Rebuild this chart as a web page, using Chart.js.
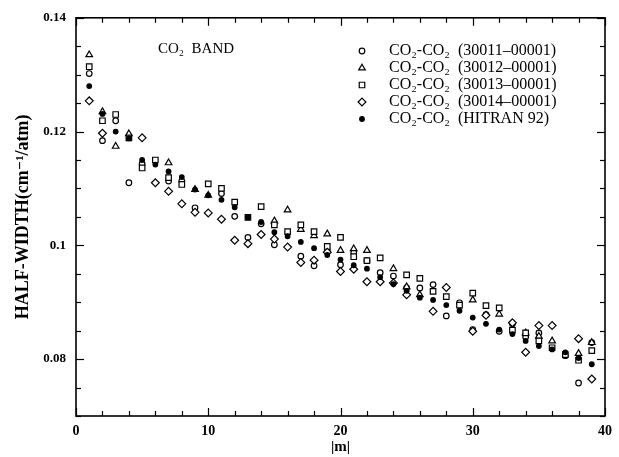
<!DOCTYPE html>
<html><head><meta charset="utf-8">
<script src="https://cdn.jsdelivr.net/npm/chart.js@4/dist/chart.umd.min.js"></script>
<style>html,body{margin:0;padding:0;background:#fff;}#wrap{width:619px;height:457px;position:relative;background:#fff;}</style>
</head><body><div id="wrap"><canvas id="c" width="619" height="457"></canvas></div>
<script>
// |m| values
const mValues = [1,2,3,4,5,6,7,8,9,10,11,12,13,14,15,16,17,18,19,20,21,22,23,24,25,26,27,28,29,30,31,32,33,34,35,36,37,38,39];
// CO2-CO2 (30011-00001)  open circles
const band30011 = [0.1302,0.1184,0.1219,0.1110,0.1143,null,0.1113,0.1113,0.1066,null,0.1091,0.1051,0.1014,0.1038,0.1001,null,0.0981,0.0964,0.0991,0.0966,0.0987,0.0973,0.0952,0.0946,0.0925,0.0925,0.0931,0.0876,0.0899,0.0852,0.0878,0.0849,0.0862,0.0839,0.0846,null,0.0806,0.0758,0.0829];
// CO2-CO2 (30012-00001)  open triangles
const band30012 = [0.1335,0.1235,0.1174,0.1196,null,null,0.1145,null,0.1098,0.1088,null,null,null,null,0.1043,0.1062,0.1028,0.1017,0.1020,0.0991,0.0994,0.0991,null,0.0959,0.0927,0.0913,null,null,null,0.0904,null,0.0879,null,0.0846,0.0840,0.0832,null,0.0810,0.0829];
// CO2-CO2 (30013-00001)  open squares
const band30013 = [0.1314,0.1219,0.1230,0.1189,0.1136,0.1150,0.1119,0.1107,null,0.1108,0.1100,0.1076,0.1049,0.1068,0.1036,0.1024,0.1036,0.1024,0.0998,0.1014,0.0980,0.0973,0.0978,null,0.0948,0.0942,0.0919,0.0910,0.0895,0.0916,0.0894,0.0890,0.0851,0.0846,0.0832,0.0820,0.0808,0.0798,0.0815];
// CO2-CO2 (30014-00001)  open diamonds
const band30014 = [0.1254,0.1197,null,null,0.1189,0.1110,0.1095,0.1073,0.1058,0.1057,0.1046,0.1009,0.1003,0.1019,0.1011,0.0997,0.0970,0.0974,0.0988,0.0954,0.0958,0.0936,0.0936,0.0934,0.0913,null,0.0884,0.0926,null,0.0849,0.0877,null,0.0864,0.0812,0.0859,0.0859,null,0.0836,0.0765];
// CO2-CO2 (HITRAN 92)  filled dots
const hitran92 = [0.1280,0.1231,0.1200,0.1188,0.1150,0.1142,0.1130,0.1120,0.1098,0.1088,0.1080,0.1067,0.1049,0.1041,0.1023,0.1016,0.1006,0.0995,0.0983,0.0975,0.0965,0.0959,0.0944,0.0932,0.0920,0.0908,0.0904,0.0895,0.0885,0.0873,0.0862,0.0852,0.0844,0.0832,0.0823,0.0817,0.0812,0.0802,0.0791];

const seriesLabels = ['CO\u2082-CO\u2082  (30011\u201300001)','CO\u2082-CO\u2082  (30012\u201300001)','CO\u2082-CO\u2082  (30013\u201300001)','CO\u2082-CO\u2082  (30014\u201300001)','CO\u2082-CO\u2082  (HITRAN 92)'];
const xTickValues = [0,10,20,30,40];
const yTickValues = [0.08,0.10,0.12,0.14];
const yTickLabels = ['0.08','0.1','0.12','0.14'];
const annotationText = 'CO\u2082  BAND';
const xTitle = '|m|';
const yTitle = 'HALF-WIDTH(cm\u207B\u00B9/atm)';

const serif = "'Liberation Serif','DejaVu Serif',serif";
function pts(arr){ const out=[]; arr.forEach((v,i)=>{ if(v!==null) out.push({x:mValues[i],y:v}); }); return out; }
const styles = [
  {pointStyle:'circle', r:2.8, fill:'#fff'},
  {pointStyle:'triangle', r:3.8, fill:'#fff'},
  {pointStyle:'rect', r:3.9, fill:'#fff'},
  {pointStyle:'rectRot', r:3.9, fill:'#fff'},
  {pointStyle:'circle', r:2.3, fill:'#000'}
];
const allSeries = [band30011,band30012,band30013,band30014,hitran92];
const datasets = allSeries.map((arr,i)=>({
  label: seriesLabels[i], data: pts(arr), showLine:false,
  pointStyle: styles[i].pointStyle, pointRadius: styles[i].r, pointHoverRadius: styles[i].r,
  pointBackgroundColor: styles[i].fill, pointBorderColor:'#000', pointBorderWidth:1.2, order: 4-i
}));

const decor = {
  id:'decor',
  afterDatasetsDraw(chart){
    const {ctx, chartArea:a, scales:{x,y}} = chart;
    ctx.save();
    ctx.strokeStyle='#000';
    ctx.lineWidth=1.2;
    const line=(x1,y1,x2,y2)=>{ctx.beginPath();ctx.moveTo(x1,y1);ctx.lineTo(x2,y2);ctx.stroke();};
    for(let v=0; v<=40; v+=2){
      const px=Math.round(x.getPixelForValue(v))+0.5; const L=(v%10===0)?8:5;
      line(px,a.bottom,px,a.bottom-L); line(px,a.top,px,a.top+L);
    }
    for(let k=0;k<=14;k++){
      const v=0.07+k*0.005; const py=Math.round(y.getPixelForValue(v))+0.5; const L=(k%4===2)?8:5;
      line(a.left,py,a.left+L,py); line(a.right,py,a.right-L,py);
    }
    ctx.lineWidth=1.6;
    ctx.strokeRect(a.left,a.top,a.right-a.left,a.bottom-a.top);
    // annotation
    ctx.fillStyle='#000';
    ctx.font="15px "+serif; ctx.textBaseline='middle'; ctx.textAlign='left';
    ctx.fillText(annotationText, 158, 49);
    // legend
    const lx=362, tx=389, ly0=51, step=17;
    chart.data.datasets.forEach((ds,i)=>{
      const yy=ly0+i*step;
      ctx.lineWidth=1.2; ctx.strokeStyle='#000'; ctx.fillStyle=styles[i].fill;
      Chart.helpers.drawPoint(ctx,{pointStyle:ds.pointStyle,radius:ds.pointRadius,borderWidth:1.2},lx,yy);
      ctx.fillStyle='#000';
      ctx.font="16px "+serif;
      ctx.fillText(ds.label, tx, yy);
    });
    ctx.restore();
  }
};

new Chart(document.getElementById('c'),{
  type:'scatter',
  data:{datasets},
  options:{
    responsive:false, animation:false,
    layout:{padding:{top:13,right:11,left:0,bottom:0}},
    plugins:{legend:{display:false},tooltip:{enabled:false}},
    scales:{
      x:{type:'linear',min:0,max:40,
        afterBuildTicks(s){ s.ticks = xTickValues.map(v=>({value:v})); },
        afterFit(s){ s.height=41; },
        grid:{display:false,drawTicks:false}, border:{display:false},
        ticks:{color:'#000',padding:7,maxRotation:0,font:{family:serif,size:14,weight:'bold'},callback:(v)=>String(v)},
        title:{display:true,text:xTitle,color:'#000',font:{family:serif,size:15,weight:'bold'},padding:{top:0,bottom:1}}
      },
      y:{type:'linear',min:0.07,max:0.14,
        afterBuildTicks(s){ s.ticks = yTickValues.map(v=>({value:v})); },
        afterFit(s){ s.width=76; },
        grid:{display:false,drawTicks:false}, border:{display:false},
        ticks:{color:'#000',padding:10,font:{family:serif,size:13,weight:'bold'},
          callback:(v)=>{ const i=yTickValues.findIndex(t=>Math.abs(t-v)<1e-9); return i>=0?yTickLabels[i]:''; }},
        title:{display:true,text:yTitle,color:'#000',font:{family:serif,size:18,weight:'bold'},padding:{top:13,bottom:0}}
      }
    }
  },
  plugins:[decor]
});
</script></body></html>
